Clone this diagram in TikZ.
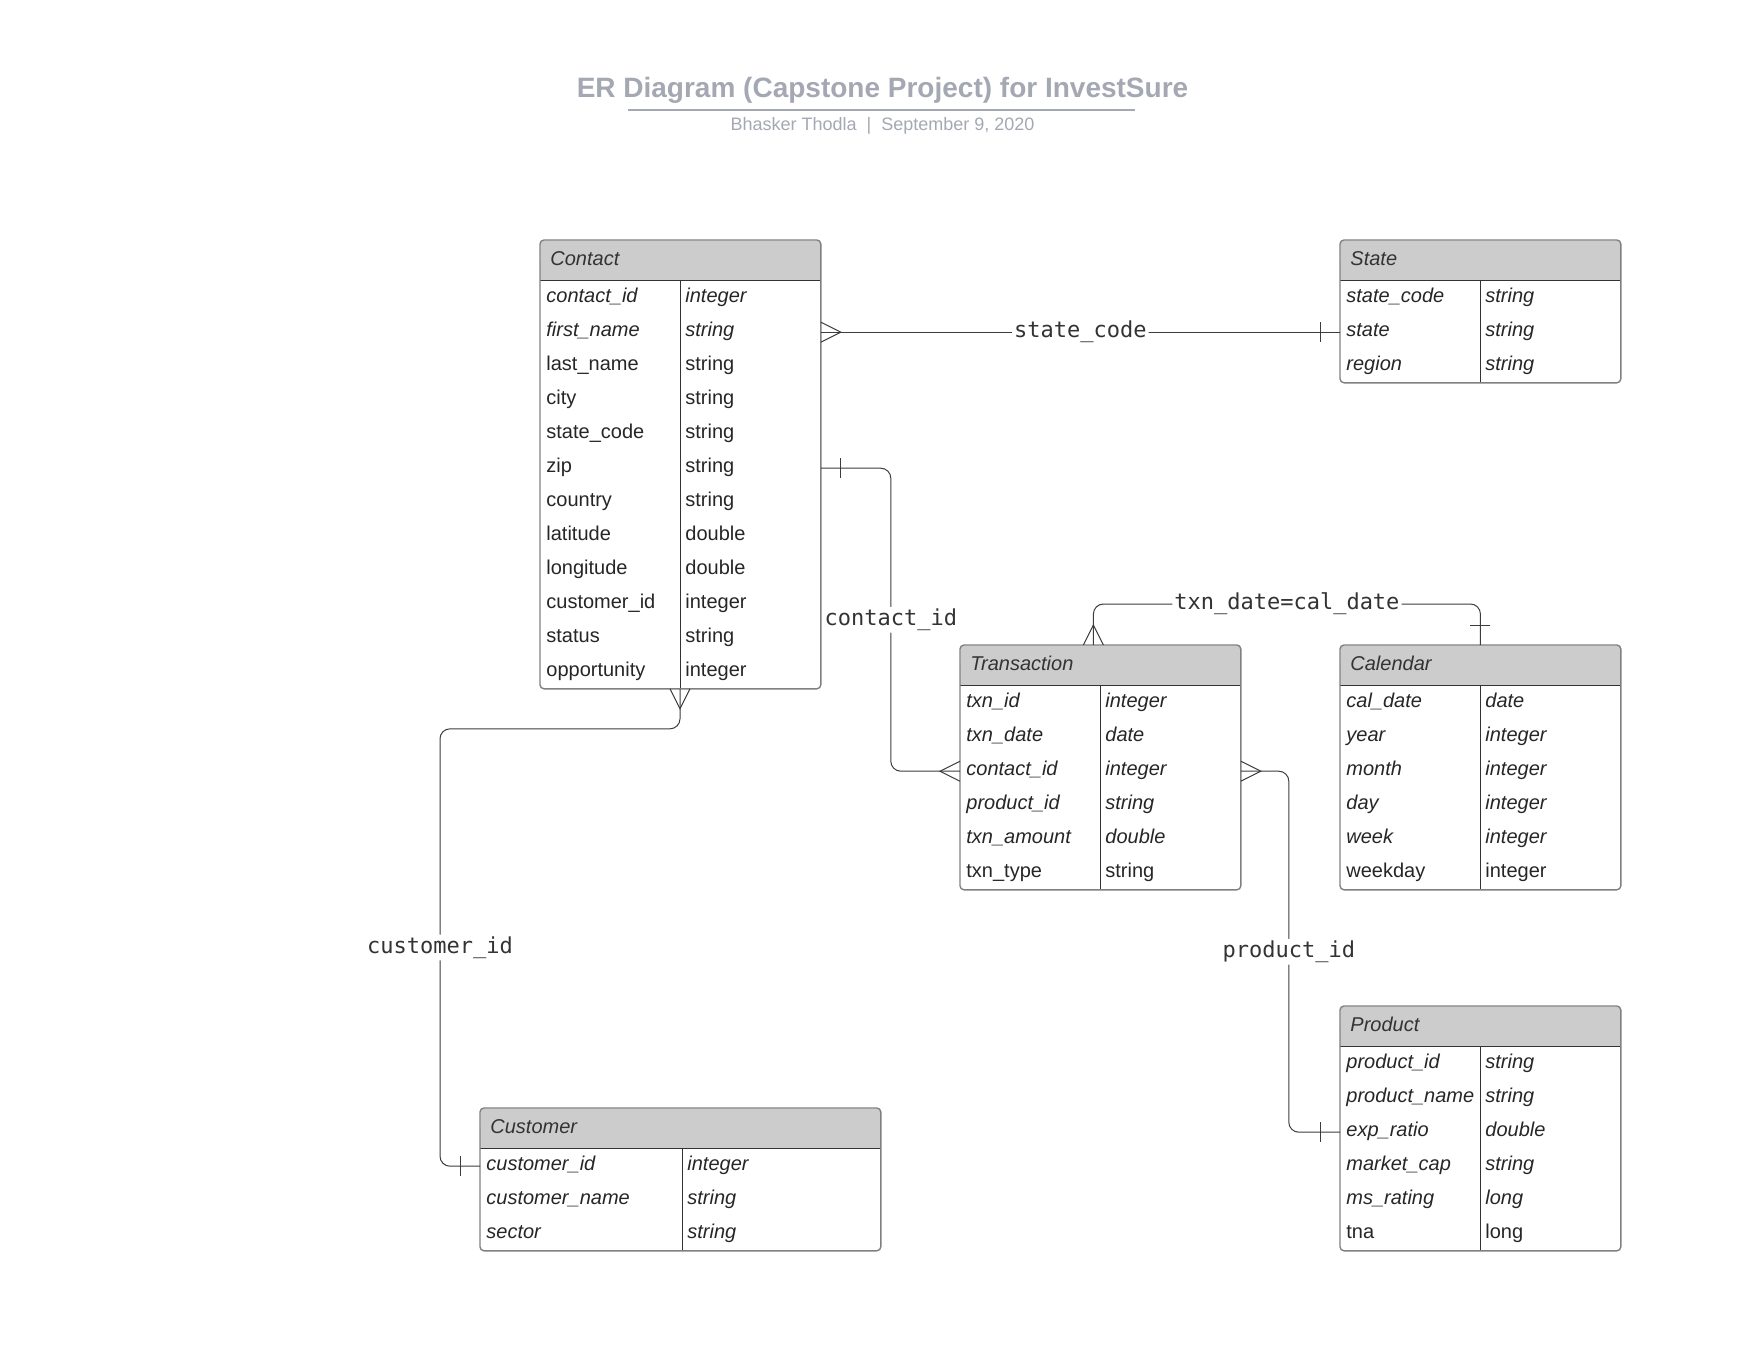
\documentclass[tikz,border=0pt]{standalone}
\usepackage{fontspec}
\setmainfont{Liberation Sans}
\setmonofont{DejaVu Sans Mono}
\usetikzlibrary{calc}
\definecolor{headfill}{HTML}{CCCCCC}
\definecolor{framegray}{HTML}{808080}
\definecolor{linkgray}{HTML}{3C3C3C}
\definecolor{titlegray}{HTML}{A3A8B2}
\definecolor{textgray}{HTML}{333333}
\tikzset{
	tablehead/.style={rectangle, fill=headfill, rounded corners=2pt, minimum height=20pt, inner sep=0pt},
	tablerow/.style={rectangle, minimum height=17pt, inner sep=0pt},
	headtext/.style={anchor=west, inner sep=0pt, text=textgray, font=\fontsize{10}{12}\itshape\selectfont},
	fieldtext/.style={anchor=base west, inner sep=0pt, text=black!85},
	tableframe/.style={draw=framegray, line width=0.7pt, rounded corners=2pt},
	tableline/.style={draw=textgray, line width=0.5pt},
	link/.style={draw=linkgray, line width=0.5pt, rounded corners=5pt},
	linklabel/.style={fill=white, inner sep=1pt, text=textgray, font=\ttfamily\fontsize{11}{13}\selectfont}
}
% #1 name, #2 top left, #3 width, #4 divider, #5 title, #6 rows
\newcommand{\ertable}[6]{%
	\node[tablehead, minimum width=#3*0.5pt, anchor=north west] (#1) at (#2) {};
	\fill[headfill] (#1.west) rectangle (#1.south east);
	\node[headtext] (#1-title) at ([xshift=5pt,yshift=1pt]#1.west) {#5};
	\foreach \fname/\ftype/\fstyle [count=\i] in {#6} {
		\node[tablerow, minimum width=#3*0.5pt, anchor=north west] (#1-\i) at ($(#1.south west)+(0,34*\i-34)$) {};
		\node[fieldtext, font=\fontsize{10}{12}\fontshape{\fstyle}\selectfont] (#1-\i-n) at ([xshift=3pt,yshift=-2pt]#1-\i.west) {\fname};
		\node[fieldtext, font=\fontsize{10}{12}\fontshape{\fstyle}\selectfont] (#1-\i-t) at ([xshift=#4*0.5pt+2.5pt,yshift=-2pt]#1-\i.west) {\ftype};
		\xdef\nrows{\i}
	}
	\coordinate (#1-div) at ($(#1.south west)+(#4,34*\nrows)$);
	\draw[tableline] (#1.south west) -- (#1.south east);
	\draw[tableline] ($(#1.south west)+(#4,0)$) -- (#1-div);
	\draw[tableframe] (#1.north west) rectangle ($(#1.south east)+(0,34*\nrows)$);
}
% crow's foot (many) and bar (one), #1 point on the box, #2 direction out of it
\newcommand{\crowfoot}[2]{\draw[link, sharp corners] ($(#1)+(#2+90:10)$) -- ($(#1)+(#2:20)$) -- ($(#1)+(#2-90:10)$);}
\newcommand{\onebar}[2]{\draw[link] ($(#1)+(#2:20)+(#2+90:10)$) -- ($(#1)+(#2:20)+(#2-90:10)$);}

\begin{document}
\begin{tikzpicture}[x=0.5pt, y=-0.5pt]
	%%%%% START %%%%%
	\useasboundingbox (0,0) rectangle (1760,1360);
	
	\node[text=titlegray, font=\bfseries\fontsize{14}{16}\selectfont] (title) at (882.5,90) {ER Diagram (Capstone Project) for InvestSure};
	\draw[titlegray, line width=1pt] (628,110) -- (1135,110);
	\node[text=titlegray, font=\fontsize{9}{11}\selectfont] (subtitle) at (882.5,125.5) {Bhasker Thodla~~|~~September 9, 2020};
	
	%%%%% TABLES %%%%%
	\ertable{contact}{540,240}{280}{140}{Contact}{contact\_id/integer/it, first\_name/string/it, last\_name/string/n, city/string/n, state\_code/string/n, zip/string/n, country/string/n, latitude/double/n, longitude/double/n, customer\_id/integer/n, status/string/n, opportunity/integer/n}
	\ertable{state}{1340,240}{280}{140}{State}{state\_code/string/it, state/string/it, region/string/it}
	\ertable{txn}{960,645}{280}{140}{Transaction}{txn\_id/integer/it, txn\_date/date/it, contact\_id/integer/it, product\_id/string/it, txn\_amount/double/it, txn\_type/string/n}
	\ertable{cal}{1340,645}{280}{140}{Calendar}{cal\_date/date/it, year/integer/it, month/integer/it, day/integer/it, week/integer/it, weekday/integer/n}
	\ertable{prod}{1340,1006}{280}{140}{Product}{product\_id/string/it, product\_name/string/it, exp\_ratio/double/it, market\_cap/string/it, ms\_rating/long/it, tna/long/n}
	\ertable{customer}{480,1108}{400}{202}{Customer}{customer\_id/integer/it, customer\_name/string/it, sector/string/it}
	
	%%%%% LINKS %%%%%
	\coordinate (txnTop) at ([xshift=-3.5pt]txn.north);
	
	\draw[link] (contact-2.east) -- node[linklabel] (lblstate) {state\_code} (state-2.west);
	\crowfoot{contact-2.east}{0}
	\onebar{state-2.west}{180}
	
	\draw[link] (contact-6.east) -- ++(70,0) |- node[linklabel, pos=0.25] (lblcontact) {contact\_id} (txn-3.west);
	\onebar{contact-6.east}{0}
	\crowfoot{txn-3.west}{180}
	
	\draw[link] (contact-div) -- ++(0,40) -| node[linklabel, pos=0.75] (lblcustomer) {customer\_id} ([xshift=-20pt]customer-1.west) -- (customer-1.west);
	\crowfoot{contact-div}{90}
	\onebar{customer-1.west}{180}
	
	\draw[link] (txnTop) -- ++(0,-41) -| node[linklabel, pos=0.25] (lbldate) {txn\_date=cal\_date} (cal.north);
	\crowfoot{txnTop}{-90}
	\onebar{cal.north}{-90}
	
	\draw[link] (txn-3.east) -- ++(48,0) |- node[linklabel, pos=0.25] (lblproduct) {product\_id} (prod-3.west);
	\crowfoot{txn-3.east}{0}
	\onebar{prod-3.west}{180}
	
	%%%%% END %%%%%
\end{tikzpicture}
\end{document}
